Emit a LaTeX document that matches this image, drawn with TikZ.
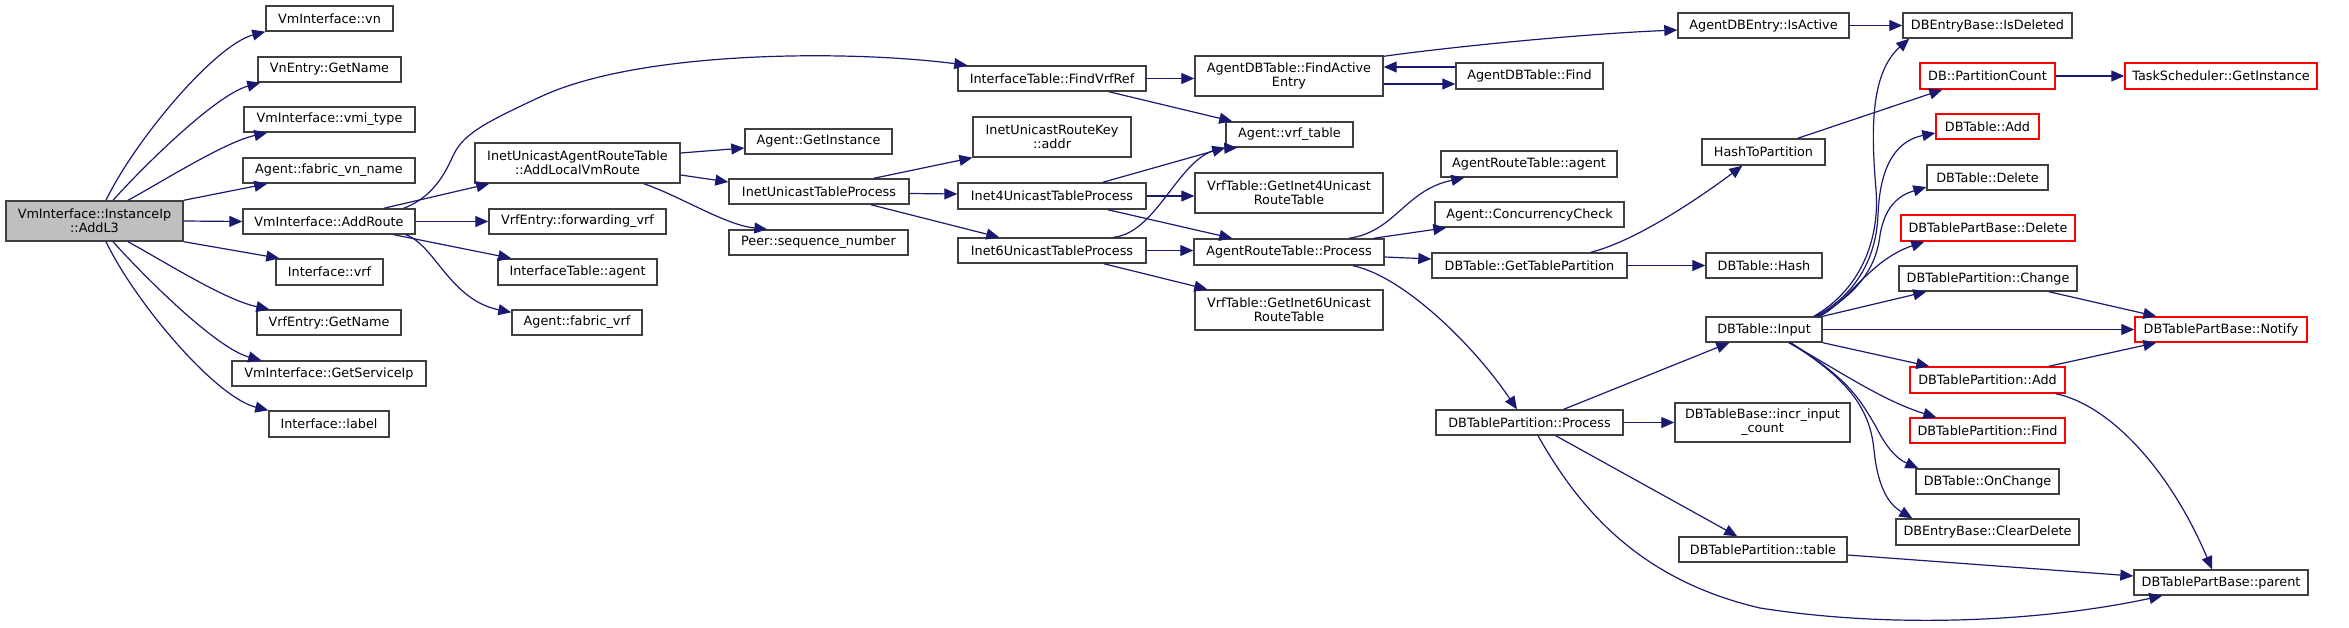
\documentclass[tikz,border=0pt]{standalone}
\usepackage{fontspec}
\setmainfont{DejaVu Sans}
\usetikzlibrary{arrows.meta}
\definecolor{edgec}{HTML}{191970}
\definecolor{boxc}{HTML}{404040}
\definecolor{mainfill}{HTML}{BFBFBF}
\begin{document}
\begin{tikzpicture}[x=1pt,y=-1pt,
 box/.style={draw=boxc, text=black, line width=1.4pt, fill=white, inner sep=0pt, minimum height=25pt, align=center, font=\fontsize{12.8}{14}\selectfont},
 redbox/.style={box, draw=red},
 tall/.style={minimum height=40pt},
 edge/.style={draw=edgec, line width=1.2pt, -{Triangle[length=13pt,width=11pt]}}]
\useasboundingbox (0,0) rectangle (2349,627);

\node[box, fill=mainfill, tall, minimum width=177pt] (main) at (94.5,221) {VmInterface::InstanceIp\\::AddL3};
\node[box, minimum width=127pt] (vn) at (329.5,18.5) {VmInterface::vn};
\node[box, minimum width=143pt] (vnget) at (329.5,69.5) {VnEntry::GetName};
\node[box, minimum width=171pt] (vmitype) at (329.5,119.5) {VmInterface::vmi\_type};
\node[box, minimum width=172pt] (fabvn) at (329,170.5) {Agent::fabric\_vn\_name};
\node[box, minimum width=172pt] (addroute) at (329,221.5) {VmInterface::AddRoute};
\node[box, minimum width=107pt, minimum height=26pt] (ifvrf) at (329.5,272) {Interface::vrf};
\node[box, minimum width=144pt] (vrfget) at (329,322.5) {VrfEntry::GetName};
\node[box, minimum width=194pt] (svcip) at (329,373.5) {VmInterface::GetServiceIp};
\node[box, minimum width=120pt, minimum height=26pt] (iflabel) at (329,424) {Interface::label};

\node[box, tall, minimum width=205pt] (addlocal) at (577.5,163) {InetUnicastAgentRouteTable\\::AddLocalVmRoute};
\node[box, minimum width=177pt] (fwdvrf) at (577.5,221.5) {VrfEntry::forwarding\_vrf};
\node[box, minimum width=159pt, minimum height=26pt] (iftagent) at (577.5,272) {InterfaceTable::agent};
\node[box, minimum width=130pt] (fabvrf) at (577,322.5) {Agent::fabric\_vrf};

\node[box, minimum width=147pt] (getinst) at (818.5,141.5) {Agent::GetInstance};
\node[box, minimum width=180pt] (inetproc) at (819,191.5) {InetUnicastTableProcess};
\node[box, minimum width=179pt] (peerseq) at (818.5,242.5) {Peer::sequence\_number};

\node[box, minimum width=188pt] (findvrf) at (1052,78.5) {InterfaceTable::FindVrfRef};
\node[box, tall, minimum width=158pt] (routekey) at (1052,137) {InetUnicastRouteKey\\::addr};
\node[box, minimum width=188pt, minimum height=26pt] (inet4) at (1052,196) {Inet4UnicastTableProcess};
\node[box, minimum width=188pt] (inet6) at (1052,250.5) {Inet6UnicastTableProcess};

\node[box, tall, minimum width=188pt] (findactive) at (1289,76) {AgentDBTable::FindActive\\Entry};
\node[box, minimum width=127pt] (vrftable) at (1289.5,134.5) {Agent::vrf\_table};
\node[box, tall, minimum width=188pt] (getinet4) at (1289,193) {VrfTable::GetInet4Unicast\\RouteTable};
\node[box, minimum width=190pt, minimum height=26pt] (artproc) at (1289,252) {AgentRouteTable::Process};
\node[box, tall, minimum width=188pt] (getinet6) at (1289,310) {VrfTable::GetInet6Unicast\\RouteTable};

\node[box, minimum width=147pt, minimum height=26pt] (dbfind) at (1529.5,76) {AgentDBTable::Find};
\node[box, minimum width=176pt, minimum height=26pt] (rtagent) at (1529,164) {AgentRouteTable::agent};
\node[box, minimum width=189pt] (concur) at (1529.5,214.5) {Agent::ConcurrencyCheck};
\node[box, minimum width=195pt] (gettp) at (1529.5,265.5) {DBTable::GetTablePartition};
\node[box, minimum width=187pt] (dbtpproc) at (1529.5,422.5) {DBTablePartition::Process};

\node[box, minimum width=171pt] (isactive) at (1763.5,25.5) {AgentDBEntry::IsActive};
\node[box, minimum width=123pt, minimum height=26pt] (hashtp) at (1763.5,152) {HashToPartition};
\node[box, minimum width=116pt] (dbhash) at (1764,265.5) {DBTable::Hash};
\node[box, minimum width=116pt] (input) at (1764,329.5) {DBTable::Input};
\node[box, minimum width=175pt, minimum height=39pt] (incr) at (1762.5,422.5) {DBTableBase::incr\_input\\\_count};
\node[box, minimum width=168pt] (tptable) at (1763,549.5) {DBTablePartition::table};

\node[box, minimum width=169pt] (isdeleted) at (1987.5,25.5) {DBEntryBase::IsDeleted};
\node[redbox, minimum width=135pt, minimum height=26pt] (partcount) at (1987.5,76) {DB::PartitionCount};
\node[redbox, minimum width=103pt] (dbadd) at (1987.5,126.5) {DBTable::Add};
\node[box, minimum width=121pt] (dbdelete) at (1987.5,177.5) {DBTable::Delete};
\node[redbox, minimum width=174pt, minimum height=26pt] (tpbdelete) at (1988,228) {DBTablePartBase::Delete};
\node[box, minimum width=178pt] (tpchange) at (1988,278.5) {DBTablePartition::Change};
\node[redbox, minimum width=155pt, minimum height=26pt] (tpadd) at (1987.5,380) {DBTablePartition::Add};
\node[redbox, minimum width=155pt] (tpfind) at (1987.5,430.5) {DBTablePartition::Find};
\node[box, minimum width=143pt] (onchange) at (1987.5,481.5) {DBTable::OnChange};
\node[box, minimum width=183pt, minimum height=26pt] (cleardel) at (1987.5,532) {DBEntryBase::ClearDelete};

\node[redbox, minimum width=192pt, minimum height=26pt] (taskinst) at (2221,76) {TaskScheduler::GetInstance};
\node[redbox, minimum width=172pt] (notify) at (2221,329.5) {DBTablePartBase::Notify};
\node[box, minimum width=174pt] (parent) at (2221,582.5) {DBTablePartBase::parent};

% main
\draw[edge] ([xshift=11.5pt]main.north) .. controls (135,140) and (215,45) .. (vn.south west);
\draw[edge] ([xshift=18.5pt]main.north) .. controls (140,170) and (215,95) .. ([xshift=3pt]vnget.south west);
\draw[edge] ([xshift=33.5pt]main.north) .. controls (165,180) and (225,142) .. ([xshift=24pt]vmitype.south west);
\draw[edge] (main.north east) -- ([xshift=25pt]fabvn.south west);
\draw[edge] (main.east) -- (addroute.west);
\draw[edge] (main.south east) -- ([xshift=4pt]ifvrf.north west);
\draw[edge] ([xshift=33.5pt]main.south) .. controls (165,262) and (225,300) .. ([xshift=13pt]vrfget.north west);
\draw[edge] ([xshift=18.5pt]main.south) .. controls (140,272) and (215,348) .. ([xshift=30pt]svcip.north west);
\draw[edge] ([xshift=11.5pt]main.south) .. controls (135,302) and (215,397) .. (iflabel.north west);
% addroute
\draw[edge] ([xshift=-12pt]addroute.north east) .. controls (425,200) and (440,185) .. (452,158) .. controls (462,135) and (480,125) .. (540,97) .. controls (640,50) and (850,50) .. ([xshift=10pt]findvrf.north west);
\draw[edge] ([xshift=-32pt]addroute.north east) -- ([xshift=15pt]addlocal.south west);
\draw[edge] (addroute.east) -- (fwdvrf.west);
\draw[edge] ([xshift=-22pt]addroute.south east) -- ([xshift=14pt]iftagent.north west);
\draw[edge] ([xshift=-10pt]addroute.south east) .. controls (435,245) and (450,300) .. ([yshift=-3pt]fabvrf.north west);
% addlocal
\draw[edge] ([yshift=10pt]addlocal.east) -- ([yshift=-6.5pt]getinst.west);
\draw[edge] ([yshift=-12pt]addlocal.east) -- ([yshift=9.5pt]inetproc.west);
\draw[edge] ([xshift=-37pt]addlocal.south east) .. controls (680,196) and (725,225) .. ([xshift=39pt]peerseq.north west);
% inetproc
\draw[edge] ([xshift=-36pt]inetproc.north east) -- (routekey.south west);
\draw[edge] ([yshift=-2pt]inetproc.east) -- ([yshift=2pt]inet4.west);
\draw[edge] ([xshift=-39pt]inetproc.south east) -- ([xshift=42pt]inet6.north west);
% findvrf
\draw[edge] (findvrf.east) -- (findactive.west |- findvrf.east);
\draw[edge] ([xshift=-38pt]findvrf.south east) -- ([xshift=7pt]vrftable.north west);
% inet4
\draw[edge] ([xshift=-44pt]inet4.north east) -- (vrftable.south west);
\draw[edge] (inet4.east) -- (getinet4.west |- inet4.east);
\draw[edge] ([xshift=-39pt]inet4.south east) -- ([xshift=39pt]artproc.north west);
% inet6
\draw[edge] ([xshift=-33pt]inet6.north east) .. controls (1160,232) and (1180,150) .. ([xshift=12pt]vrftable.south west);
\draw[edge] (inet6.east) -- (artproc.west |- inet6.east);
\draw[edge] ([xshift=-43pt]inet6.south east) -- ([xshift=13pt]getinet6.north west);
% findactive
\draw[edge] ([yshift=-1pt]findactive.north east) .. controls (1450,47) and (1580,34) .. ([yshift=-4.5pt]isactive.west);
\draw[edge] ([yshift=-8pt]findactive.east) -- ([yshift=-8pt]dbfind.west);
\draw[edge] ([yshift=9pt]dbfind.west) -- ([yshift=9pt]findactive.east);
\draw[edge] (isactive.east) -- (isdeleted.west);
% artproc
\draw[edge] ([xshift=-36pt]artproc.north east) .. controls (1395,232) and (1405,190) .. ([xshift=24pt]rtagent.south west);
\draw[edge] ([xshift=-11pt]artproc.north east) -- ([xshift=12pt]concur.south west);
\draw[edge] ([yshift=-5pt]artproc.east) -- ([yshift=6.5pt]gettp.west);
\draw[edge] ([xshift=-32pt]artproc.south east) .. controls (1400,275) and (1470,340) .. ([xshift=-12.5pt]dbtpproc.north);
% gettp
\draw[edge] ([xshift=-37pt]gettp.north east) .. controls (1640,240) and (1710,190) .. ([xshift=41pt]hashtp.south west);
\draw[edge] (gettp.east) -- (dbhash.west);
\draw[edge] ([xshift=-28pt]hashtp.north east) -- ([xshift=23pt]partcount.south west);
\draw[edge] (partcount.east) -- (taskinst.west);
% dbtpproc
\draw[edge] ([xshift=-60pt]dbtpproc.north east) -- ([xshift=24pt]input.south west);
\draw[edge] (dbtpproc.east) -- (incr.west);
\draw[edge] ([xshift=-68pt]dbtpproc.south east) -- ([xshift=59pt]tptable.north west);
\draw[edge] ([xshift=8.5pt]dbtpproc.south) .. controls (1580,510) and (1640,580) .. (1760,608) .. controls (1900,630) and (2050,620) .. ([xshift=29pt]parent.south west);
% input
\draw[edge] ([xshift=-9pt]input.north east) .. controls (1860,290) and (1880,240) .. (1876,190) .. controls (1872,140) and (1868,75) .. ([xshift=7pt]isdeleted.south west);
\draw[edge] ([xshift=-7pt]input.north east) .. controls (1855,295) and (1876,260) .. (1878,215) .. controls (1880,160) and (1900,140) .. ([yshift=-6.5pt]dbadd.west);
\draw[edge] ([xshift=-5pt]input.north east) .. controls (1855,295) and (1876,270) .. (1880,235) .. controls (1885,205) and (1900,195) .. ([yshift=-9.5pt]dbdelete.west);
\draw[edge] ([xshift=-3pt]input.north east) .. controls (1850,300) and (1870,260) .. ([xshift=24pt]tpbdelete.south west);
\draw[edge] (input.north east) -- ([xshift=28pt]tpchange.south west);
\draw[edge] (input.east) -- (notify.west);
\draw[edge] (input.south east) -- ([xshift=20pt]tpadd.north west);
\draw[edge] ([xshift=-34pt]input.south east) .. controls (1830,365) and (1880,400) .. ([xshift=27pt]tpfind.north west);
\draw[edge] ([xshift=-32pt]input.south east) .. controls (1850,380) and (1860,400) .. (1875,425) .. controls (1885,445) and (1895,458) .. ([xshift=3pt]onchange.north west);
\draw[edge] ([xshift=-33pt]input.south east) .. controls (1850,380) and (1870,410) .. (1874,450) .. controls (1878,490) and (1890,505) .. ([xshift=17pt]cleardel.north west);
% others
\draw[edge] ([xshift=-29pt]tpchange.south east) -- ([xshift=22pt]notify.north west);
\draw[edge] ([xshift=-17pt]tpadd.north east) -- ([xshift=22pt]notify.south west);
\draw[edge] ([xshift=-10pt]tpadd.south east) .. controls (2110,405) and (2170,470) .. ([xshift=-9pt]parent.north);
\draw[edge] ([yshift=-5.5pt]tptable.east) -- ([yshift=6.5pt]parent.west);
\end{tikzpicture}
\end{document}
